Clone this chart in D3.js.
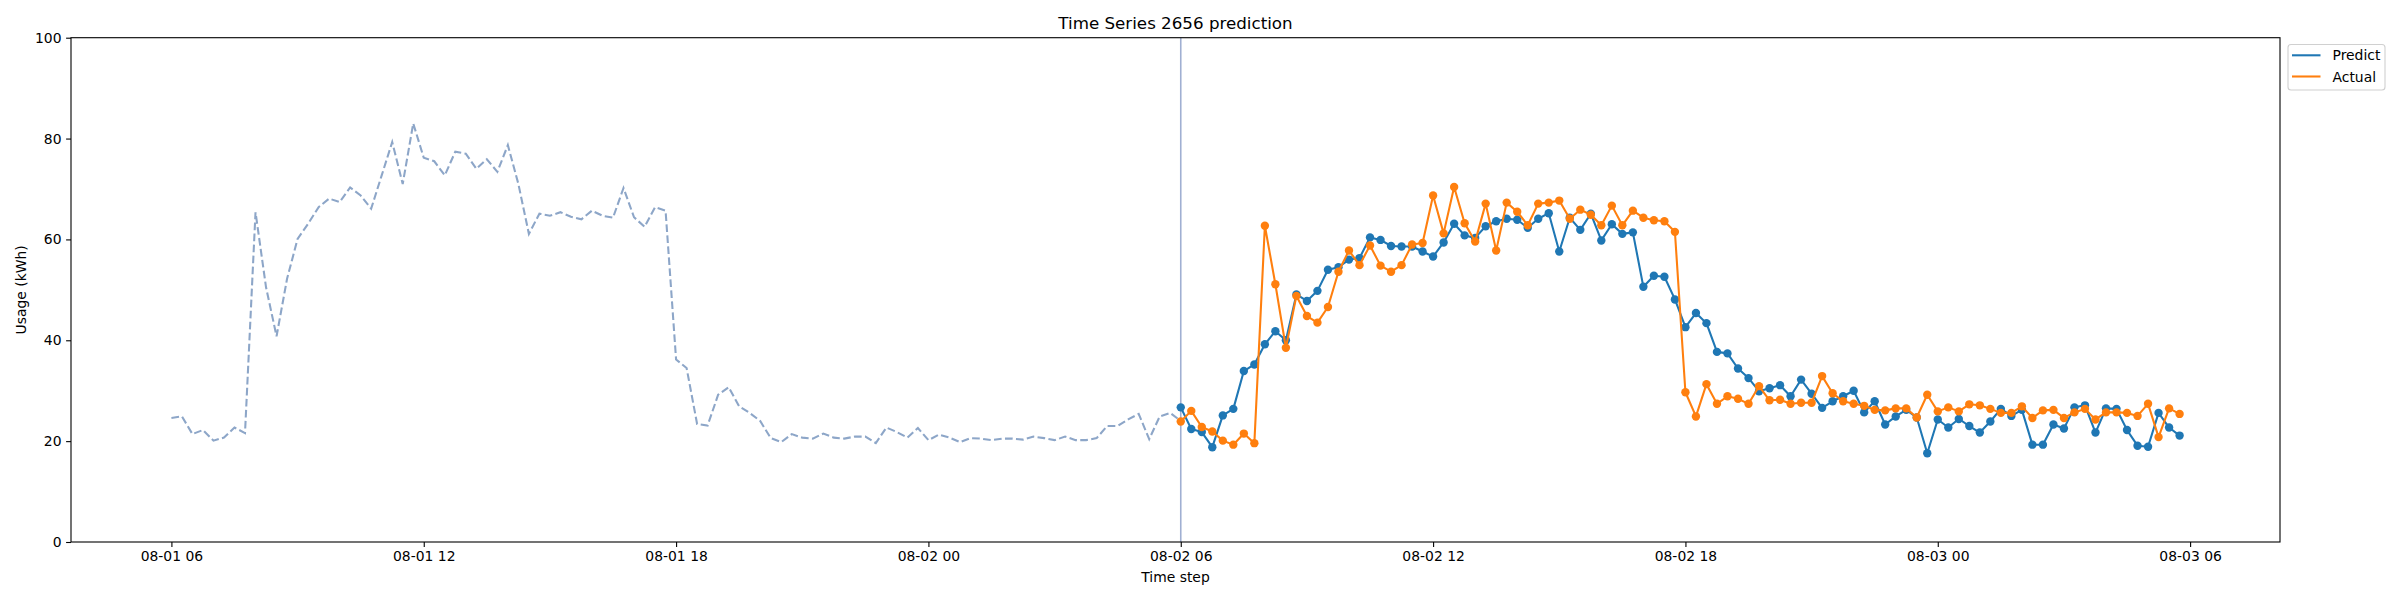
<!DOCTYPE html>
<html>
<head>
<meta charset="utf-8">
<script src="https://cdn.jsdelivr.net/npm/d3@7/dist/d3.min.js"></script>
<style>
  html, body { margin: 0; padding: 0; background: #ffffff; }
  svg text { font-family: "DejaVu Sans", sans-serif; fill: #000; }
</style>
</head>
<body>
<svg id="chart" width="2400" height="600"></svg>
<script>
// ---------------- DATA ----------------
const chartTitle = "Time Series 2656 prediction";
const xLabel = "Time step";
const yLabel = "Usage (kWh)";
const seriesNames = ["Predict", "Actual"];
const historyStart = "2023-08-01T06:00:00";   // first history sample
const forecastStart = "2023-08-02T06:00:00";  // first forecast sample
const stepMinutes = 15;
const yTicks = [0, 20, 40, 60, 80, 100];
const xTickHours = 6;
const xTickFormat = "%m-%d %H";

const history = [
  24.6, 24.9, 21.4, 22.2, 20.1, 20.7, 22.7, 21.6, 65.4, 50.5,
  40.8, 52.2, 60.1, 63.1, 66.4, 68.1, 67.4, 70.3, 68.7, 66.1,
  72.7, 79.3, 71.0, 83.0, 76.2, 75.5, 72.7, 77.4, 77.0, 74.0,
  75.9, 73.4, 78.7, 71.0, 61.1, 65.1, 64.7, 65.4, 64.5, 64.0,
  65.7, 64.7, 64.3, 70.2, 64.4, 62.5, 66.4, 65.7, 36.2, 34.5,
  23.4, 23.1, 29.2, 30.7, 26.9, 25.6, 24.0, 20.6, 19.8, 21.4,
  20.7, 20.5, 21.5, 20.7, 20.5, 20.9, 20.9, 19.6, 22.7, 21.8,
  20.7, 22.6, 20.2, 21.3, 20.7, 19.8, 20.6, 20.5, 20.2, 20.5,
  20.5, 20.3, 20.9, 20.6, 20.2, 20.9, 20.2, 20.2, 20.6, 23.0,
  23.0, 24.3, 25.4, 20.4, 24.9, 25.6, 24.0
];

const predict = [
  26.7, 22.4, 21.8, 18.8, 25.1, 26.4, 33.9, 35.2, 39.2, 41.8,
  40.0, 49.1, 47.8, 49.8, 54.0, 54.5, 56.0, 56.3, 60.4, 59.9,
  58.7, 58.6, 58.6, 57.6, 56.6, 59.4, 63.1, 60.8, 60.3, 62.6,
  63.6, 64.1, 63.9, 62.3, 64.1, 65.2, 57.6, 64.3, 61.9, 65.1,
  59.8, 63.0, 61.1, 61.4, 50.6, 52.8, 52.6, 48.1, 42.6, 45.4,
  43.4, 37.7, 37.4, 34.4, 32.5, 29.9, 30.5, 31.1, 28.9, 32.2,
  29.4, 26.6, 27.9, 28.9, 30.0, 25.7, 27.9, 23.3, 24.9, 26.2,
  24.7, 17.6, 24.3, 22.7, 24.4, 23.0, 21.7, 23.9, 26.4, 25.0,
  26.2, 19.3, 19.3, 23.3, 22.5, 26.7, 27.1, 21.7, 26.5, 26.4,
  22.2, 19.1, 18.9, 25.6, 22.7, 21.1
];

const actual = [
  23.9, 26.0, 22.8, 21.9, 20.1, 19.3, 21.5, 19.6, 62.7, 51.1,
  38.5, 48.8, 44.8, 43.5, 46.6, 53.6, 57.8, 54.9, 58.8, 54.8,
  53.6, 54.9, 59.0, 59.3, 68.7, 61.2, 70.4, 63.2, 59.6, 67.1,
  57.8, 67.3, 65.5, 62.8, 67.1, 67.3, 67.7, 64.1, 65.9, 64.9,
  62.8, 66.7, 62.8, 65.7, 64.3, 63.8, 63.6, 61.5, 29.7, 24.9,
  31.3, 27.4, 28.9, 28.4, 27.4, 30.9, 28.1, 28.2, 27.4, 27.6,
  27.6, 32.9, 29.5, 27.9, 27.4, 27.0, 26.2, 26.1, 26.5, 26.5,
  24.7, 29.2, 25.9, 26.7, 25.9, 27.3, 27.1, 26.4, 25.6, 25.6,
  26.9, 24.6, 26.1, 26.2, 24.6, 25.7, 26.4, 24.3, 25.7, 25.7,
  25.6, 25.0, 27.4, 20.8, 26.5, 25.4
];

// ---------------- LAYOUT / STYLE ----------------
const plot = { left: 71, right: 2280, top: 37.7, bottom: 542 };
const colors = { predict: "#1f77b4", actual: "#ff7f0e", history: "#8da6c8", vline: "#a0afd2" };

const svg = d3.select("#chart");
const parse = d3.timeParse("%Y-%m-%dT%H:%M:%S");
const t0 = parse(historyStart);
const tf = parse(forecastStart);

const histPts = history.map((v, i) => ({ t: d3.timeMinute.offset(t0, i * stepMinutes), v }));
const predPts = predict.map((v, i) => ({ t: d3.timeMinute.offset(tf, i * stepMinutes), v }));
const actPts = actual.map((v, i) => ({ t: d3.timeMinute.offset(tf, i * stepMinutes), v }));

const allT = histPts.concat(predPts).map(d => d.t);
const tMin = d3.min(allT), tMax = d3.max(allT);
const pad = (tMax - tMin) * 0.05;

const x = d3.scaleTime()
  .domain([new Date(+tMin - pad), new Date(+tMax + pad)])
  .range([plot.left, plot.right]);
const y = d3.scaleLinear().domain([0, 100]).range([plot.bottom, plot.top]);

const line = d3.line().x(d => x(d.t)).y(d => y(d.v));

// clip
svg.append("defs").append("clipPath").attr("id", "clip")
  .append("rect").attr("x", plot.left).attr("y", plot.top)
  .attr("width", plot.right - plot.left).attr("height", plot.bottom - plot.top);

const g = svg.append("g").attr("clip-path", "url(#clip)");

// history dashed
g.append("path").datum(histPts)
  .attr("d", line).attr("fill", "none")
  .attr("stroke", colors.history).attr("stroke-width", 2.08)
  .attr("stroke-dasharray", "7.7,3.33");

// vertical line at forecast start
g.append("line")
  .attr("x1", x(tf)).attr("x2", x(tf))
  .attr("y1", plot.top).attr("y2", plot.bottom)
  .attr("stroke", colors.vline).attr("stroke-width", 1.6);

function drawSeries(pts, color) {
  g.append("path").datum(pts).attr("d", line).attr("fill", "none")
    .attr("stroke", color).attr("stroke-width", 2.08).attr("stroke-linejoin", "round");
  g.append("g").selectAll("circle").data(pts).join("circle")
    .attr("cx", d => x(d.t)).attr("cy", d => y(d.v)).attr("r", 4.2)
    .attr("fill", color);
}
drawSeries(predPts, colors.predict);
drawSeries(actPts, colors.actual);

// axes
const xTicks = d3.timeHour.every(xTickHours).range(
  d3.timeHour.ceil(x.domain()[0]), x.domain()[1]);
const xAxis = d3.axisBottom(x).tickValues(xTicks)
  .tickFormat(d3.timeFormat(xTickFormat)).tickSize(4.9).tickPadding(4.2);
const gx = svg.append("g").attr("transform", `translate(0,${plot.bottom})`).call(xAxis);
gx.select(".domain").remove();
gx.selectAll("line").attr("stroke", "#000").attr("stroke-width", 1.1);
gx.selectAll("text").attr("font-size", "13.9px").attr("font-family", "DejaVu Sans");

const yAxis = d3.axisLeft(y).tickValues(yTicks).tickSize(4.9).tickPadding(4.6);
const gy = svg.append("g").attr("transform", `translate(${plot.left},0)`).call(yAxis);
gy.select(".domain").remove();
gy.selectAll("line").attr("stroke", "#000").attr("stroke-width", 1.1);
gy.selectAll("text").attr("font-size", "13.9px").attr("font-family", "DejaVu Sans");

// frame
svg.append("rect")
  .attr("x", plot.left).attr("y", plot.top)
  .attr("width", plot.right - plot.left).attr("height", plot.bottom - plot.top)
  .attr("fill", "none").attr("stroke", "#000").attr("stroke-width", 1.1);

// title & labels
svg.append("text").attr("x", (plot.left + plot.right) / 2).attr("y", 29)
  .attr("text-anchor", "middle").attr("font-size", "16.7px").text(chartTitle);
svg.append("text").attr("x", (plot.left + plot.right) / 2).attr("y", 582)
  .attr("text-anchor", "middle").attr("font-size", "13.9px").text(xLabel);
svg.append("text")
  .attr("transform", `translate(25.5,${(plot.top + plot.bottom) / 2}) rotate(-90)`)
  .attr("text-anchor", "middle").attr("font-size", "13.9px").text(yLabel);

// legend
const lg = svg.append("g");
lg.append("rect").attr("x", 2288).attr("y", 44.5).attr("width", 97).attr("height", 45.5)
  .attr("rx", 3).attr("fill", "#fff").attr("fill-opacity", 0.8)
  .attr("stroke", "#d0d0d0").attr("stroke-width", 1.1);
[colors.predict, colors.actual].forEach((c, i) => {
  const yy = 55.3 + i * 21.2;
  lg.append("line").attr("x1", 2292).attr("x2", 2320.5).attr("y1", yy).attr("y2", yy)
    .attr("stroke", c).attr("stroke-width", 2.08);
  lg.append("text").attr("x", 2332.5).attr("y", yy + 5).attr("font-size", "13.9px")
    .text(seriesNames[i]);
});
</script>
</body>
</html>
